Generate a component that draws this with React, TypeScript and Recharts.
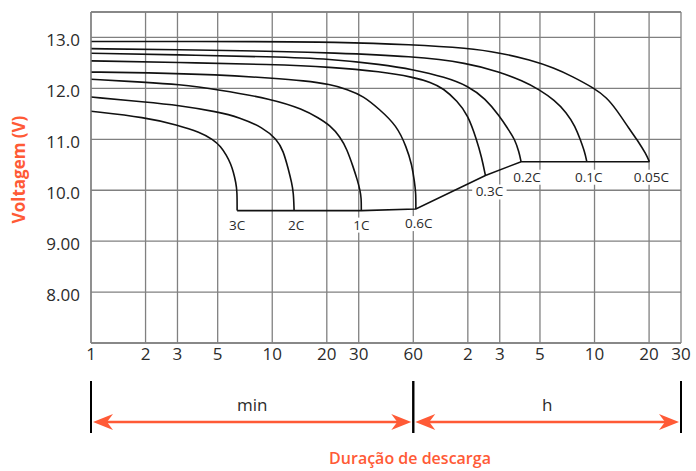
import React from 'react';
import { LineChart, Line, XAxis, YAxis, CartesianGrid, ReferenceLine, ReferenceArea, ReferenceDot } from 'recharts';

// discharge rate labels
const rates = ['3C', '2C', '1C', '0.6C', '0.3C', '0.2C', '0.1C', '0.05C'];

// time in minutes, voltage in V
const t3C = [1, 2, 3, 4, 4.7, 5.2, 5.6, 5.9, 6.1, 6.3, 6.4, 6.4];
const v3C = [11.55, 11.43, 11.28, 11.14, 11.0, 10.86, 10.68, 10.52, 10.36, 10.15, 9.98, 9.6];

const t2C = [1, 2, 3, 5, 6.6, 8.9, 10.6, 11.5, 12.3, 12.8, 13.1, 13.2];
const v2C = [11.83, 11.73, 11.67, 11.54, 11.43, 11.23, 11.0, 10.78, 10.4, 10.15, 9.95, 9.6];

const t1C = [1, 2, 3, 5, 10, 14.8, 18, 20.9, 23.7, 25.8, 28, 29.5, 30.5, 31, 31];
const v1C = [12.18, 12.12, 12.08, 11.98, 11.79, 11.59, 11.42, 11.27, 11.05, 10.81, 10.45, 10.2, 10.0, 9.85, 9.6];

const t06C = [1, 2, 5, 10, 15, 20.9, 26, 31.8, 39, 48.6, 55, 59, 61, 62, 62];
const v06C = [12.32, 12.31, 12.27, 12.2, 12.15, 12.08, 11.98, 11.85, 11.59, 11.27, 10.85, 10.5, 10.15, 9.95, 9.63];

const t03C = [1, 3, 10, 21, 40, 60, 75, 88, 105, 120, 134, 143, 150];
const v03C = [12.54, 12.51, 12.47, 12.42, 12.33, 12.22, 12.12, 12.0, 11.75, 11.48, 11.0, 10.65, 10.29];

const t02C = [1, 3, 10, 21, 40, 60, 90, 120, 150, 180, 200, 218, 230, 236];
const v02C = [12.69, 12.66, 12.62, 12.58, 12.47, 12.37, 12.22, 12.05, 11.8, 11.45, 11.2, 11.0, 10.75, 10.56];

const t01C = [1, 3, 10, 21, 60, 120, 180, 240, 300, 360, 420, 470, 500, 530, 544];
const v01C = [12.78, 12.76, 12.73, 12.7, 12.63, 12.5, 12.32, 12.15, 11.97, 11.77, 11.53, 11.25, 11.0, 10.75, 10.56];

const t005C = [1, 10, 21, 60, 120, 180, 265, 360, 450, 600, 700, 790, 935, 1050, 1150, 1205];
const v005C = [12.92, 12.92, 12.91, 12.86, 12.79, 12.7, 12.56, 12.4, 12.24, 12.0, 11.82, 11.59, 11.2, 10.95, 10.72, 10.56];

// end-of-discharge line
const cutoffT = [6.4, 13.2, 31, 62, 150, 236, 544, 1205];
const cutoffV = [9.6, 9.6, 9.6, 9.63, 10.29, 10.56, 10.56, 10.56];

const xTicks = [1, 2, 3, 5, 10, 20, 30, 60, 120, 180, 300, 600, 1200, 1800];
const xTickLabels = ['1', '2', '3', '5', '10', '20', '30', '60', '2', '3', '5', '10', '20', '30'];
const yTicks = [8, 9, 10, 11, 12, 13];

const build = (t: number[], v: number[]) => t.map((x, i) => ({ t: x, v: v[i] }));

const curves = [
  build(t3C, v3C),
  build(t2C, v2C),
  build(t1C, v1C),
  build(t06C, v06C),
  build(t03C, v03C),
  build(t02C, v02C),
  build(t01C, v01C),
  build(t005C, v005C),
];
const cutoff = build(cutoffT, cutoffV);

const ORANGE = '#ff5a36';
const GRID = '#808080';
const INK = '#2b2b2b';

// small nudges for the rate tags (px)
const tagDx = [0, 2, 0, 3, 4, 6, 2, 2];
const tagDy = [19, 19, 19, 19, 21, 20, 20, 20];

const RateTag = (props: any) => {
  const { cx, cy, text, dx, dy } = props;
  if (cx == null || cy == null) return null;
  const w = text.length * 7.6 + 4;
  return (
    <g>
      <rect x={cx + dx - w / 2} y={cy + dy - 12} width={w} height={15} fill="#fff" />
      <text x={cx + dx} y={cy + dy} textAnchor="middle" fontSize={13.5} fill={INK}>
        {text}
      </text>
    </g>
  );
};

const Span = (props: any) => {
  const { x, y, width, height, text } = props;
  const bottom = y + height;
  const ay = bottom + 79;
  const l = x + 2;
  const r = x + width - 2;
  return (
    <g>
      <line x1={x} x2={x} y1={bottom + 38} y2={bottom + 90} stroke="#000" strokeWidth={2} />
      <line x1={x + width} x2={x + width} y1={bottom + 38} y2={bottom + 90} stroke="#000" strokeWidth={2} />
      <line x1={l + 12} x2={r - 12} y1={ay} y2={ay} stroke={ORANGE} strokeWidth={2.5} />
      <polygon points={`${l},${ay} ${l + 20},${ay - 8} ${l + 14},${ay} ${l + 20},${ay + 8}`} fill={ORANGE} />
      <polygon points={`${r},${ay} ${r - 20},${ay - 8} ${r - 14},${ay} ${r - 20},${ay + 8}`} fill={ORANGE} />
      <text x={x + width / 2} y={bottom + 68} textAnchor="middle" fontSize={17} fill={INK}>
        {text}
      </text>
    </g>
  );
};

export default function App() {
  return (
    <div style={{ position: 'absolute', left: 0, top: 0, width: 696, height: 471, fontFamily: "'Open Sans', sans-serif" }}>
      <LineChart width={696} height={471} margin={{ top: 12, right: 15, bottom: 0, left: 31 }}>
        <CartesianGrid stroke={GRID} strokeWidth={1.3} />
        <XAxis
          dataKey="t"
          type="number"
          scale="log"
          domain={[1, 1800]}
          allowDataOverflow
          ticks={xTicks}
          tickFormatter={(v: number) => xTickLabels[xTicks.indexOf(v)] ?? ''}
          height={128}
          stroke={GRID}
          strokeWidth={1.3}
          tickLine={false}
          tickSize={0}
          tickMargin={5}
          tick={{ fill: INK, fontSize: 17 }}
          label={{
            content: (p: any) => {
              const vb = p.viewBox || { x: 91, y: 343, width: 590, height: 128 };
              return (
                <text x={vb.x + vb.width / 2 + 24} y={vb.y + 121} textAnchor="middle" fontSize={16} fontWeight={600} fill={ORANGE}>
                  Duração de descarga
                </text>
              );
            },
          }}
        />
        <YAxis
          type="number"
          domain={[7, 13.5]}
          allowDataOverflow
          ticks={yTicks}
          tickFormatter={(v: number) => (v >= 10 ? v.toFixed(1) : v.toFixed(2))}
          width={60}
          stroke={GRID}
          strokeWidth={1.3}
          tickLine={false}
          tickSize={0}
          tickMargin={11}
          tick={{ fill: INK, fontSize: 17, dy: 3 }}
          label={{
            content: (p: any) => {
              const vb = p.viewBox || { x: 31, y: 12, width: 60, height: 331 };
              const cx = vb.x - 13;
              const cy = vb.y + vb.height / 2 - 8;
              return (
                <text x={cx} y={cy} transform={`rotate(-90 ${cx} ${cy})`} textAnchor="middle" dominantBaseline="central" fontSize={17} fontWeight={700} fill={ORANGE}>
                  Voltagem (V)
                </text>
              );
            },
          }}
        />
        <ReferenceLine y={13.5} stroke={GRID} strokeWidth={1.3} />
        <ReferenceArea x1={1} x2={60} shape={(p: any) => <Span {...p} text="min" />} />
        <ReferenceArea x1={60} x2={1800} shape={(p: any) => <Span {...p} text="h" />} />
        {curves.map((d, i) => (
          <Line
            key={rates[i]}
            data={d}
            dataKey="v"
            type="basis"
            stroke="#111"
            strokeWidth={1.6}
            dot={false}
            isAnimationActive={false}
          />
        ))}
        <Line data={cutoff} dataKey="v" type="linear" stroke="#111" strokeWidth={1.6} dot={false} isAnimationActive={false} />
        {curves.map((d, i) => (
          <ReferenceDot
            key={'tag' + rates[i]}
            x={d[d.length - 1].t}
            y={d[d.length - 1].v}
            r={0}
            shape={(p: any) => <RateTag {...p} text={rates[i]} dx={tagDx[i]} dy={tagDy[i]} />}
          />
        ))}
      </LineChart>
    </div>
  );
}
